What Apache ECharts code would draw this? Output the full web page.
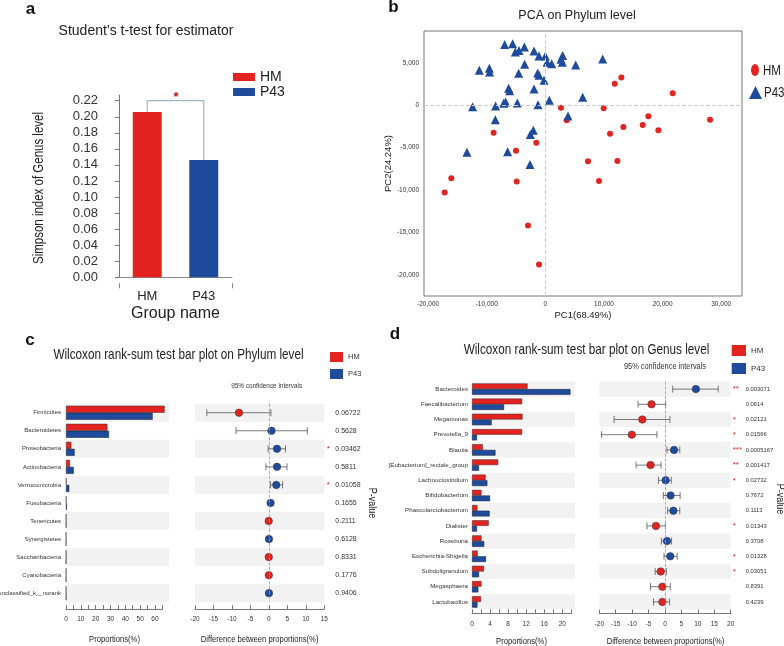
<!DOCTYPE html>
<html>
<head>
<meta charset="utf-8">
<script src="https://cdn.jsdelivr.net/npm/echarts@6/dist/echarts.min.js"></script>
<style>
html, body { margin: 0; padding: 0; background: #fff; }
#main { width: 784px; height: 646px; }
</style>
</head>
<body>
<div id="main"></div>
<script>
var RED = '#e3231f';
var BLUE = '#1e4b9b';
var SANS = "'Liberation Sans', Arial, sans-serif";
var NARROW_SCALE = 0.82; // no narrow font installed, squeeze Liberation Sans instead

// a - simpson index
var groupNames = ['HM', 'P43'];
var simpsonValues = [0.206, 0.146];
var simpsonTicks = [0, 0.02, 0.04, 0.06, 0.08, 0.10, 0.12, 0.14, 0.16, 0.18, 0.20, 0.22];
var bracketTop = 0.22;

// b - PCA (PC1, PC2)
var pcaHM = [
    [12970, 3270], [11830, 2560], [21730, 1420], [2670, -280], [9950, -350],
    [3640, -1770], [17580, -1300], [13310, -2560], [16610, -2320], [28100, -1690],
    [19280, -2950], [11040, -3350], [-8820, -3230], [-1540, -4410], [-5010, -5350],
    [7280, -6610], [12290, -6580], [9160, -8940], [-4890, -8980], [-16040, -8620],
    [-17180, -10280], [-2960, -14170], [-1080, -18780]
];
var pcaP43 = [
    [-6940, 7170], [-5580, 7280], [-3580, 6890], [-5120, 6300], [-4490, 6460],
    [-1930, 6420], [-1080, 5830], [0, 5830], [2960, 5870], [2670, 5430],
    [2900, 5080], [290, 5080], [1080, 4920], [5180, 4760], [9780, 5470],
    [-3530, 4840], [-11260, 4130], [-9560, 4370], [-9500, 3940], [-4550, 3780],
    [-1310, 3820], [-1080, 3540], [-230, 2950], [-6260, 2010], [-6090, 1730],
    [-1930, 1930], [6370, 950], [680, 590], [-12400, -160], [-8480, -80],
    [-7110, 240], [-6770, 390], [-4780, 280], [-1250, 80], [3870, -1260],
    [-8530, -1690], [-2050, -2950], [-2560, -3430], [-13370, -5550], [-6430, -5470],
    [-2620, -6970]
];
var pcaTicksX = [-20000, -10000, 0, 10000, 20000, 30000];
var pcaTicksY = [-20000, -15000, -10000, -5000, 0, 5000];

// c - phylum level
var phylumNames = ['Firmicutes', 'Bacteroidetes', 'Proteobacteria', 'Actinobacteria', 'Verrucomicrobia',
    'Fusobacteria', 'Tenericutes', 'Synergistetes', 'Saccharibacteria', 'Cyanobacteria', 'unclassified_k__norank'];
var phylumHM = [66.5, 27.9, 3.6, 2.7, 0.3, 0.15, 0.12, 0.1, 0.1, 0.1, 0.1];
var phylumP43 = [58.4, 29.0, 5.8, 5.2, 2.2, 0.6, 0.1, 0.1, 0.1, 0.1, 0.1];
var phylumDiff = [-8.1, 0.7, 2.2, 2.2, 2.0, 0.45, -0.05, 0.02, -0.03, -0.02, 0.01];
var phylumLow = [-16.8, -8.9, -0.2, -0.8, 0.45, 0.25, -0.15, -0.1, -0.15, -0.12, -0.1];
var phylumHigh = [0.55, 10.4, 4.5, 4.9, 3.7, 0.65, 0.05, 0.12, 0.1, 0.08, 0.12];
var phylumP = ['0.06722', '0.5628', '0.03462', '0.5811', '0.01058', '0.1655', '0.2111', '0.6128', '0.8331', '0.1776', '0.9406'];
var phylumStar = ['', '', '*', '', '*', '', '', '', '', '', ''];

// d - genus level
var genusNames = ['Bacteroides', 'Faecalibacterium', 'Megamonas', 'Prevotella_9', 'Blautia',
    '[Eubacterium]_rectale_group', 'Lachnoclostridium', 'Bifidobacterium', 'Phascolarctobacterium', 'Dialister',
    'Roseburia', 'Escherichia-Shigella', 'Subdoligranulum', 'Megasphaera', 'Lactobacillus'];
var genusHM = [12.3, 11.1, 11.2, 11.1, 2.4, 5.8, 3.0, 2.1, 1.2, 3.7, 2.1, 1.25, 2.65, 2.1, 2.0];
var genusP43 = [21.8, 7.1, 4.35, 1.1, 5.2, 1.55, 3.4, 4.0, 3.9, 1.1, 2.7, 3.1, 1.55, 1.4, 1.2];
var genusDiff = [9.4, -4.1, -6.9, -10.1, 2.75, -4.4, 0.2, 1.7, 2.55, -2.75, 0.6, 1.6, -1.3, -0.8, -0.8];
var genusLow = [2.35, -8.2, -15.5, -19.3, 0.6, -8.8, -2.0, -0.5, 0.8, -5.5, -1.1, -0.3, -3.0, -4.4, -3.5];
var genusHigh = [16.2, 0.2, 1.5, -2.45, 4.5, -1.2, 1.9, 4.6, 4.5, 0.1, 2.0, 3.7, 0.4, 1.6, 1.4];
var genusP = ['0.003071', '0.0614', '0.02121', '0.01566', '0.0005167', '0.001417', '0.02732', '0.7672',
    '0.1113', '0.01343', '0.3708', '0.01328', '0.03051', '0.8391', '0.4239'];
var genusStar = ['**', '', '*', '*', '***', '**', '*', '', '', '*', '', '*', '*', '', ''];

var BAND = ['#f2f2f2', 'rgba(0,0,0,0)'];
var ELLIPSE = 'path://M0,6 A4,6 0 1,1 8,6 A4,6 0 1,1 0,6 Z';

function errorBar(params, api) {
    var row = api.value(2);
    var lo = api.coord([api.value(0), row]);
    var hi = api.coord([api.value(1), row]);
    var cap = 3.5;
    var st = { stroke: '#555', lineWidth: 0.8 };
    return {
        type: 'group',
        children: [
            { type: 'line', shape: { x1: lo[0], y1: lo[1], x2: hi[0], y2: hi[1] }, style: st },
            { type: 'line', shape: { x1: lo[0], y1: lo[1] - cap, x2: lo[0], y2: lo[1] + cap }, style: st },
            { type: 'line', shape: { x1: hi[0], y1: hi[1] - cap, x2: hi[0], y2: hi[1] + cap }, style: st }
        ]
    };
}

function dots(diff) {
    return diff.map(function (d, i) {
        return { value: [d, i], itemStyle: { color: d < 0 ? RED : BLUE } };
    });
}

function bars(low, high) {
    return low.map(function (l, i) { return [l, high[i], i]; });
}

function pvalFormatter(pvals, stars) {
    return function (value, index) {
        return '{s|' + (stars[index] || ' ') + '}{p|' + pvals[index] + '}';
    };
}

// text placed by hand (titles, axis names), squeezed to look like the narrow font
function txt(x, y, text, size, opts) {
    opts = opts || {};
    return {
        type: 'text', x: x, y: y,
        rotation: opts.rotation || 0,
        scaleX: opts.narrow === false ? 1 : NARROW_SCALE,
        silent: true,
        style: {
            text: text,
            font: (opts.bold ? 'bold ' : '') + size + 'px ' + SANS,
            fill: opts.color || '#222',
            textAlign: opts.align || 'center',
            textVerticalAlign: 'middle'
        }
    };
}

var zeroLine = {
    silent: true,
    symbol: ['none', 'none'],
    label: { show: false },
    lineStyle: { type: 'dashed', color: '#999', width: 0.8 },
    data: [{ xAxis: 0 }]
};

function catAxis(grid, names, showLabel, fontSize, margin) {
    return {
        gridIndex: grid, type: 'category', inverse: true, data: names,
        axisLine: { show: false }, axisTick: { show: false },
        axisLabel: { show: showLabel, interval: 0, fontSize: fontSize, margin: margin, color: '#333' },
        splitArea: { show: true, interval: 0, areaStyle: { color: BAND } }
    };
}

function pAxis(grid, names, pvals, stars, margin, starWidth, fontSize) {
    return {
        gridIndex: grid, type: 'category', inverse: true, position: 'right', data: names,
        axisLine: { show: false }, axisTick: { show: false },
        axisLabel: {
            interval: 0, margin: margin, color: '#333',
            formatter: pvalFormatter(pvals, stars),
            rich: {
                s: { width: starWidth, color: RED, fontSize: 8 },
                p: { color: '#333', fontSize: fontSize }
            }
        }
    };
}

function tickAxis(grid, min, max, step, labelStep, offset) {
    return {
        gridIndex: grid, type: 'value', min: min, max: max, interval: step, offset: offset,
        axisLine: { show: true, lineStyle: { color: '#555', width: 0.8 } },
        axisTick: { show: true, inside: true, length: 4, lineStyle: { color: '#555', width: 0.8 } },
        splitLine: { show: false },
        axisLabel: {
            fontSize: 6.5, color: '#333', margin: 7,
            formatter: function (v) { return v % labelStep === 0 ? String(v) : ''; }
        }
    };
}

var hidden = function (grid, min, max) {
    return { gridIndex: grid, type: 'value', min: min, max: max, show: false };
};

var myChart = echarts.init(document.getElementById('main'));

var option = {
    animation: false,
    textStyle: { fontFamily: SANS },
    grid: [
        { left: 119, top: 95, width: 113, height: 182.3, outerBoundsMode: 'none', containLabel: false },
        { left: 424, top: 31, width: 318, height: 265, show: true, borderColor: '#777', borderWidth: 1, outerBoundsMode: 'none', containLabel: false },
        { left: 66, top: 403.7, width: 103, height: 198.5, outerBoundsMode: 'none', containLabel: false },
        { left: 66, top: 403.7, width: 96.4, height: 205.3, outerBoundsMode: 'none', containLabel: false },
        { left: 195, top: 403.7, width: 129.3, height: 198.5, outerBoundsMode: 'none', containLabel: false },
        { left: 472, top: 381.5, width: 103, height: 228, outerBoundsMode: 'none', containLabel: false },
        { left: 472, top: 381.5, width: 99.3, height: 231.8, outerBoundsMode: 'none', containLabel: false },
        { left: 599.3, top: 381.5, width: 131.4, height: 228, outerBoundsMode: 'none', containLabel: false }
    ],
    xAxis: [
        {
            gridIndex: 0, type: 'category', data: groupNames, offset: 6, position: 'bottom',
            axisLine: { lineStyle: { color: '#888' } },
            axisTick: { alignWithLabel: true, length: 5, lineStyle: { color: '#888' } },
            axisLabel: { fontSize: 13, color: '#222', margin: 7 },
            name: 'Group name', nameLocation: 'middle', nameGap: 22,
            nameTextStyle: { fontSize: 16, color: '#222' }
        },
        {
            // end ticks of the group axis
            gridIndex: 0, type: 'value', min: 0, max: 1, offset: 6, position: 'bottom',
            axisLine: { show: false }, splitLine: { show: false },
            axisTick: { show: true, length: 5, customValues: [0, 1], lineStyle: { color: '#888' } },
            axisLabel: { show: false }
        },
        {
            gridIndex: 1, type: 'value', min: -20700, max: 33550,
            axisLine: { show: false }, axisTick: { show: false }, splitLine: { show: false },
            axisLabel: {
                customValues: pcaTicksX, fontSize: 6.5, color: '#333', margin: 5,
                formatter: function (v) { return v.toLocaleString('en-US'); }
            },
            name: 'PC1(68.49%)', nameLocation: 'middle', nameGap: 14,
            nameTextStyle: { fontSize: 9.5, color: '#222' }
        },
        hidden(2, 0, 69.45),
        tickAxis(3, 0, 65, 5, 10, 0),
        tickAxis(4, -20, 15, 5, 5, 7),
        hidden(5, 0, 22.81),
        tickAxis(6, 0, 22, 2, 4, 0),
        tickAxis(7, -20, 20, 5, 5, 4)
    ],
    yAxis: [
        {
            gridIndex: 0, type: 'value', min: 0, max: 0.2271, offset: 12,
            axisLine: { show: true, lineStyle: { color: '#777', width: 1 } },
            axisTick: { show: true, length: 4, customValues: simpsonTicks, lineStyle: { color: '#777' } },
            splitLine: { show: false },
            axisLabel: {
                customValues: simpsonTicks, fontSize: 13, color: '#333', margin: 9,
                formatter: function (v) { return v.toFixed(2); }
            }
        },
        {
            gridIndex: 1, type: 'value', min: -22500, max: 8770,
            axisLine: { show: false }, axisTick: { show: false }, splitLine: { show: false },
            axisLabel: {
                customValues: pcaTicksY, fontSize: 6.5, color: '#333', margin: 5,
                formatter: function (v) { return v.toLocaleString('en-US'); }
            },
            name: 'PC2(24.24%)', nameLocation: 'middle', nameGap: 30,
            nameTextStyle: { fontSize: 9.5, color: '#222' }
        },
        catAxis(2, phylumNames, true, 6, 5),
        hidden(3, 0, 1),
        catAxis(4, phylumNames, false, 6, 0),
        pAxis(4, phylumNames, phylumP, phylumStar, 2.5, 8.5, 7),
        catAxis(5, genusNames, true, 6.2, 4),
        hidden(6, 0, 1),
        catAxis(7, genusNames, false, 6, 0),
        pAxis(7, genusNames, genusP, genusStar, 2, 13, 5.8)
    ],
    legend: [
        {
            data: ['HM', 'P43'], left: 233, top: 70, orient: 'vertical', icon: 'rect', padding: 0,
            itemWidth: 22, itemHeight: 8, itemGap: 1, selectedMode: false,
            textStyle: { fontSize: 14, lineHeight: 13, color: '#222' }
        },
        {
            // PCA legend: markers only, text drawn narrow below
            data: [{ name: 'HM', icon: ELLIPSE }], left: 751, top: 64, padding: 0, itemWidth: 8, itemHeight: 12,
            symbolKeepAspect: false, selectedMode: false,
            formatter: function () { return ''; }
        },
        {
            data: [{ name: 'P43', icon: 'triangle' }], left: 749, top: 86, padding: 0, itemWidth: 13, itemHeight: 13,
            symbolKeepAspect: false, selectedMode: false,
            formatter: function () { return ''; }
        },
        {
            data: ['HM', 'P43'], left: 330, top: 352, orient: 'vertical', icon: 'rect', padding: 0,
            itemWidth: 13, itemHeight: 10, itemGap: 7, selectedMode: false,
            textStyle: { fontSize: 7.5, color: '#333' }
        },
        {
            data: ['HM', 'P43'], left: 731.7, top: 345, orient: 'vertical', icon: 'rect', padding: 0,
            itemWidth: 14.3, itemHeight: 11, itemGap: 7, selectedMode: false,
            textStyle: { fontSize: 8, color: '#333' }
        }
    ],
    graphic: [
        txt(30.5, 9, 'a', 17, { bold: true, narrow: false, color: '#111' }),
        txt(146, 31, 'Student\u2019s t-test for estimator', 14, { narrow: false }),
        txt(176, 97, '*', 13, { bold: true, narrow: false, color: '#b01515' }),
        txt(39, 188, 'Simpson index of Genus level', 14, { rotation: Math.PI / 2 }),
        txt(393.5, 7, 'b', 17, { bold: true, narrow: false, color: '#111' }),
        txt(577, 16, 'PCA on Phylum level', 12.5, { narrow: false }),
        txt(763, 71, 'HM', 14, { align: 'left' }),
        txt(764, 93, 'P43', 14, { align: 'left' }),
        txt(30, 340, 'c', 17, { bold: true, narrow: false, color: '#111' }),
        txt(178.5, 355, 'Wilcoxon rank-sum test bar plot on Phylum level', 14.3),
        txt(266.7, 386, '95% confidence intervals', 7.8, { color: '#333' }),
        txt(114.5, 639, 'Proportions(%)', 9.3),
        txt(259.6, 639, 'Difference between proportions(%)', 9.3),
        txt(372, 503, 'P-value', 11, { rotation: -Math.PI / 2 }),
        txt(395, 334, 'd', 17, { bold: true, narrow: false, color: '#111' }),
        txt(586.5, 350, 'Wilcoxon rank-sum test bar plot on Genus level', 14.3),
        txt(665, 367, '95% confidence intervals', 9, { color: '#333' }),
        txt(521.5, 641, 'Proportions(%)', 9.3),
        txt(665.5, 641, 'Difference between proportions(%)', 9.3),
        txt(780, 499, 'P-value', 11, { rotation: -Math.PI / 2 })
    ],
    series: [
        // a
        { name: 'HM', type: 'bar', xAxisIndex: 0, yAxisIndex: 0, stack: 'g', barWidth: 29, data: [simpsonValues[0], '-'], itemStyle: { color: RED } },
        { name: 'P43', type: 'bar', xAxisIndex: 0, yAxisIndex: 0, stack: 'g', barWidth: 29, data: ['-', simpsonValues[1]], itemStyle: { color: BLUE } },
        {
            name: 'sig', type: 'line', xAxisIndex: 0, yAxisIndex: 0, symbol: 'none', silent: true,
            lineStyle: { color: '#9cb6c8', width: 1.2 },
            data: [[groupNames[0], simpsonValues[0]], [groupNames[0], bracketTop], [groupNames[1], bracketTop], [groupNames[1], simpsonValues[1]]]
        },
        // b
        {
            name: 'HM', type: 'scatter', xAxisIndex: 2, yAxisIndex: 1, symbol: 'circle', symbolSize: 6,
            itemStyle: { color: RED, opacity: 1 }, data: pcaHM,
            markLine: {
                silent: true, symbol: ['none', 'none'], label: { show: false },
                lineStyle: { type: 'dashed', color: '#ccc', width: 1 },
                data: [{ xAxis: 0 }, { yAxis: 0 }]
            }
        },
        { name: 'P43', type: 'scatter', xAxisIndex: 2, yAxisIndex: 1, symbol: 'triangle', symbolSize: 9, itemStyle: { color: BLUE, opacity: 1 }, data: pcaP43 },
        // c
        { name: 'HM', type: 'bar', xAxisIndex: 3, yAxisIndex: 2, barWidth: 7, barGap: '0%', data: phylumHM, itemStyle: { color: RED, borderColor: '#3a2a2a', borderWidth: 0.5 } },
        { name: 'P43', type: 'bar', xAxisIndex: 3, yAxisIndex: 2, barWidth: 7, barGap: '0%', data: phylumP43, itemStyle: { color: BLUE, borderColor: '#1a1a2a', borderWidth: 0.5 } },
        { name: 'ci c', type: 'custom', xAxisIndex: 5, yAxisIndex: 4, renderItem: errorBar, encode: { x: [0, 1], y: 2 }, data: bars(phylumLow, phylumHigh), z: 2 },
        {
            name: 'diff c', type: 'scatter', xAxisIndex: 5, yAxisIndex: 4, symbolSize: 7.5, z: 3,
            itemStyle: { borderColor: '#333', borderWidth: 0.5, opacity: 1 }, data: dots(phylumDiff), markLine: zeroLine
        },
        // d
        { name: 'HM', type: 'bar', xAxisIndex: 6, yAxisIndex: 6, barWidth: 5.7, barGap: '0%', data: genusHM, itemStyle: { color: RED, borderColor: '#3a2a2a', borderWidth: 0.5 } },
        { name: 'P43', type: 'bar', xAxisIndex: 6, yAxisIndex: 6, barWidth: 5.7, barGap: '0%', data: genusP43, itemStyle: { color: BLUE, borderColor: '#1a1a2a', borderWidth: 0.5 } },
        { name: 'ci d', type: 'custom', xAxisIndex: 8, yAxisIndex: 8, renderItem: errorBar, encode: { x: [0, 1], y: 2 }, data: bars(genusLow, genusHigh), z: 2 },
        {
            name: 'diff d', type: 'scatter', xAxisIndex: 8, yAxisIndex: 8, symbolSize: 7.5, z: 3,
            itemStyle: { borderColor: '#333', borderWidth: 0.5, opacity: 1 }, data: dots(genusDiff), markLine: zeroLine
        }
    ]
};
myChart.setOption(option);
</script>
</body>
</html>
